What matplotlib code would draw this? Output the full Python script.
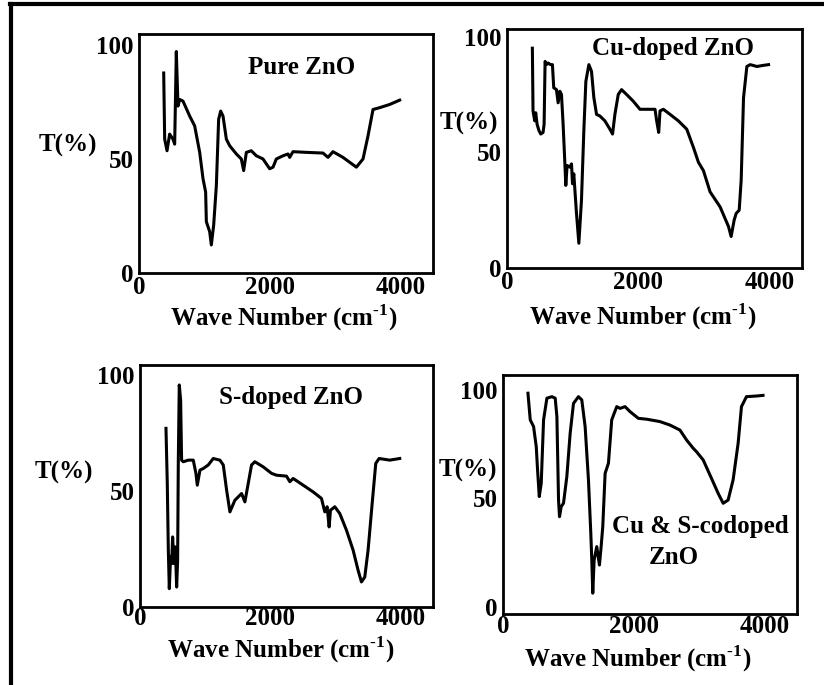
import matplotlib
matplotlib.use('Agg')
from matplotlib import pyplot as plt
from matplotlib.lines import Line2D

plt.rcParams['font.family'] = ['Liberation Serif', 'DejaVu Serif']
plt.rcParams['font.weight'] = 'bold'
plt.rcParams['mathtext.fontset'] = 'custom'
plt.rcParams['mathtext.rm'] = 'Liberation Serif:bold'
plt.rcParams['mathtext.bf'] = 'Liberation Serif:bold'

# Pure ZnO
wn1 = [378, 393, 429, 469, 520, 546, 571, 597, 622, 673, 776, 852, 929, 980, 1020, 1031, 1082, 1107, 1143, 1184,
       1219, 1250, 1286, 1337, 1388, 1490, 1566, 1602, 1643, 1719, 1796, 1898, 2000, 2051, 2102, 2204, 2281, 2306,
       2357, 2561, 2816, 2893, 2969, 3122, 3327, 3429, 3505, 3582, 3684, 3837, 3990]
t1 = [87.7, 58.7, 53.6, 60.9, 58.7, 56.5, 97.1, 73.2, 76.1, 75.4, 68.8, 64.5, 52.9, 41.3, 35.5, 22.5, 18.1, 12.3,
      21.0, 38.4, 67.4, 71.0, 68.8, 58.7, 55.8, 52.2, 50.0, 44.9, 52.9, 53.6, 51.4, 50.0, 45.7, 46.4, 50.0, 51.4,
      52.2, 50.7, 53.2, 52.9, 52.6, 50.7, 53.2, 50.7, 46.4, 50.0, 60.1, 71.7, 72.5, 73.9, 75.8]

# Cu-doped ZnO
wn2 = [387, 397, 423, 438, 459, 489, 515, 550, 566, 581, 601, 627, 662, 693, 713, 754, 780, 805, 831, 856,
       882, 897, 917, 958, 984, 999, 1019, 1060, 1096, 1136, 1172, 1203, 1249, 1289, 1325, 1366, 1417, 1493, 1570,
       1610, 1646, 1697, 1748, 1824, 1926, 2028, 2130, 2258, 2283, 2314, 2334, 2385, 2487, 2614, 2742, 2844, 2920,
       2996, 3098, 3251, 3379, 3419, 3465, 3496, 3542, 3572, 3608, 3659, 3710, 3812, 3914, 3990]
t2 = [95.0, 67.9, 63.6, 67.1, 62.1, 59.3, 57.9, 58.6, 62.1, 89.3, 87.9, 88.6, 87.9, 87.9, 77.9, 77.1, 71.4, 76.4,
      75.0, 62.1, 45.7, 35.7, 44.3, 43.6, 45.0, 36.4, 40.7, 23.6, 10.7, 29.3, 59.3, 80.7, 87.9, 85.0, 73.6, 66.4,
      65.7, 63.6, 60.0, 57.9, 66.4, 75.0, 77.1, 75.0, 72.1, 68.6, 68.6, 68.6, 63.6, 58.6, 67.9, 68.6, 66.4, 63.6,
      60.0, 52.1, 45.7, 42.1, 32.9, 26.4, 17.9, 13.6, 20.7, 23.6, 25.0, 37.9, 73.6, 87.1, 87.9, 87.1, 87.6, 87.9]

# S-doped ZnO
wn3 = [399, 419, 435, 450, 470, 486, 501, 522, 542, 563, 578, 588, 603, 624, 639, 665, 742, 818, 859, 880,
       921, 972, 1048, 1125, 1227, 1279, 1330, 1381, 1457, 1560, 1611, 1662, 1713, 1764, 1892, 2020, 2097, 2250,
       2301, 2352, 2506, 2659, 2787, 2838, 2874, 2905, 2925, 2992, 3068, 3171, 3273, 3350, 3401, 3452, 3503, 3570,
       3621, 3672, 3836, 3989]
t3 = [77.0, 53.2, 24.5, 7.9, 21.6, 18.7, 30.2, 18.7, 25.9, 8.6, 20.1, 61.9, 95.7, 89.2, 63.3, 62.6, 63.3, 63.3,
      57.6, 52.5, 59.0, 59.7, 61.2, 64.0, 63.3, 61.2, 50.4, 41.0, 46.0, 48.9, 45.3, 53.2, 61.2, 62.6, 60.4, 57.6,
      56.8, 56.4, 54.0, 55.4, 52.5, 49.6, 46.8, 41.0, 43.2, 34.5, 41.7, 43.2, 40.3, 33.1, 24.5, 15.8, 10.8, 12.9,
      24.5, 46.0, 61.9, 64.0, 63.3, 64.0]

# Cu & S-codoped ZnO
wn4 = [382, 417, 468, 509, 529, 555, 585, 621, 672, 748, 799, 825, 850, 865, 891, 926, 977, 1028, 1079, 1155,
       1206, 1257, 1308, 1344, 1359, 1374, 1395, 1435, 1476, 1502, 1527, 1563, 1614, 1664, 1741, 1792, 1868, 1944,
       2072, 2199, 2402, 2555, 2708, 2810, 2911, 2962, 3064, 3191, 3293, 3370, 3446, 3522, 3599, 3650, 3726, 3879,
       3980]
t4 = [98.5, 86.2, 83.1, 73.8, 63.1, 50.8, 56.9, 86.2, 96.2, 96.9, 96.2, 87.7, 49.2, 41.5, 46.2, 47.7, 60.0, 80.0,
      93.8, 96.9, 95.4, 83.1, 58.5, 33.8, 21.5, 6.2, 21.5, 27.7, 19.2, 27.7, 36.9, 61.5, 66.2, 86.2, 92.3, 91.5,
      92.3, 90.0, 86.9, 86.5, 85.4, 83.8, 81.5, 76.9, 73.1, 71.5, 67.7, 59.2, 52.3, 47.7, 49.2, 58.5, 75.4, 92.3,
      96.9, 97.2, 97.5]

xticks = [0, 2000, 4000]
yticks = [0, 50, 100]
xlabel = r'Wave Number (cm$^{\text{-1}}$)'
ylabel = 'T(%)'

W, H = 824, 685
fig = plt.figure(figsize=(W / 100, H / 100), dpi=100)

def px(x, y):
    return x / W, 1 - y / H

panels = [
    # data, box (left, top, right, bottom) px, ylim, title lines, ylabel pos, xlabel pos, x tick pad
    (wn1, t1, (139, 34, 433, 273), (0.7, 104.8), [('Pure ZnO', 302, 67)], (68, 145), (284, 318), 2),
    (wn2, t2, (507, 29, 802, 268), (0.7, 103.3), [('Cu-doped ZnO', 673, 48)], (469, 123), (643, 317), 2),
    (wn3, t3, (140, 365, 433, 607), (0.0, 104.3), [('S-doped ZnO', 291, 397)], (64, 472), (281, 650), 0),
    (wn4, t4, (503, 375, 797, 614), (-3.4, 106.9), [('Cu & S-codoped', 700, 527), ('ZnO', 674, 557)], (468, 470), (638, 659), 1),
]

for wn, t, box, ylim, titles, ylp, xlp, xpad in panels:
    l, tp, r, b = box
    ax = fig.add_axes([l / W, 1 - b / H, (r - l) / W, (b - tp) / H])
    ax.plot(wn, t, color='black', lw=2.2, solid_joinstyle='round')
    ax.set_xlim(0, 4500)
    ax.set_ylim(*ylim)
    ax.set_xticks(xticks)
    ax.set_yticks(yticks)
    ax.tick_params(length=0, labelsize=18)
    ax.tick_params(axis='x', pad=xpad)
    ax.tick_params(axis='y', pad=4)
    for lab in ax.get_xticklabels() + ax.get_yticklabels():
        lab.set_fontweight('bold')
    for s in ax.spines.values():
        s.set_linewidth(2)
    for txt, x, y in titles:
        fig.text(*px(x, y), txt, ha='center', va='center', fontsize=18, fontweight='bold')
    fig.text(*px(*ylp), ylabel, ha='center', va='center', fontsize=18, fontweight='bold')
    fig.text(*px(*xlp), xlabel, ha='center', va='center', fontsize=18, fontweight='bold')

# outer frame (top and left edges)
fig.add_artist(Line2D([10 / W, 1], [1 - 4 / H, 1 - 4 / H], color='black', lw=3))
fig.add_artist(Line2D([11 / W, 11 / W], [0, 1 - 4 / H], color='black', lw=3))

fig.savefig('out.png', dpi=100)
